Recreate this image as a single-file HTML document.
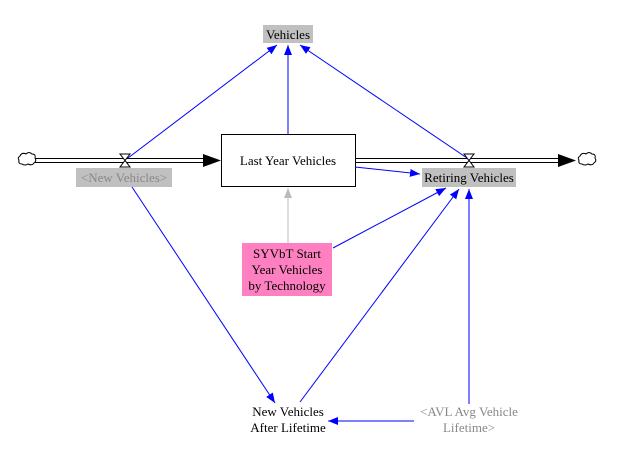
<!DOCTYPE html>
<html><head><meta charset="utf-8"><style>
html,body{margin:0;padding:0;background:#fff;width:626px;height:457px;overflow:hidden}
svg text{font-family:"Liberation Serif","Times New Roman",serif;font-size:13px}
</style></head><body>
<svg width="626" height="457" viewBox="0 0 626 457" xmlns="http://www.w3.org/2000/svg" font-family="Liberation Serif, serif" font-size="13">
<defs>
<marker id="b" markerWidth="10" markerHeight="8" refX="10" refY="4" orient="auto" markerUnits="userSpaceOnUse"><path d="M0,0 L10,4 L0,8 Z" fill="#0000ff"/></marker>
<marker id="g" markerWidth="10" markerHeight="8" refX="10" refY="4" orient="auto" markerUnits="userSpaceOnUse"><path d="M0,0 L10,4 L0,8 Z" fill="#bbb"/></marker>
</defs>
<rect x="263" y="25" width="50" height="18" fill="#c0c0c0"/>
<text x="288" y="39" text-anchor="middle">Vehicles</text>
<g stroke="#000" stroke-width="1">
<line x1="35" y1="158.5" x2="205" y2="158.5"/><line x1="35" y1="162.5" x2="205" y2="162.5"/>
<line x1="355" y1="158.5" x2="560" y2="158.5"/><line x1="355" y1="162.5" x2="560" y2="162.5"/>
</g>
<path d="M203,154 L221,160.5 L203,167 Z" fill="#000"/>
<path d="M558,154 L576,160.5 L558,167 Z" fill="#000"/>
<path d="M20,156 q2,-4 6,-2 q3,-3 6,0 q4,0 3,4 q2,3 -1,5 q-2,3 -6,1 q-3,2 -6,0 q-4,0 -3,-4 q-2,-2 1,-4 z" fill="#fff" stroke="#000"/>
<path d="M580,156 q2,-4 6,-2 q3,-3 6,0 q4,0 3,4 q2,3 -1,5 q-2,3 -6,1 q-3,2 -6,0 q-4,0 -3,-4 q-2,-2 1,-4 z" fill="#fff" stroke="#000"/>
<path d="M120,154 L130,154 L125,160.5 Z M120,167 L130,167 L125,160.5 Z" fill="#fff" stroke="#000"/>
<path d="M464,154 L474,154 L469,160.5 Z M464,167 L474,167 L469,160.5 Z" fill="#fff" stroke="#000"/>
<rect x="221.5" y="134.5" width="134" height="52" fill="#fff" stroke="#000"/>
<text x="288" y="165" text-anchor="middle">Last Year Vehicles</text>
<rect x="76" y="168" width="96" height="19" fill="#c0c0c0"/>
<text x="124" y="182" text-anchor="middle" fill="#888">&lt;New Vehicles&gt;</text>
<rect x="422" y="168" width="94" height="19" fill="#c0c0c0"/>
<text x="469" y="182" text-anchor="middle">Retiring Vehicles</text>
<rect x="242" y="243" width="90" height="53" fill="#ff80c0"/>
<text x="287" y="258" text-anchor="middle">SYVbT Start</text>
<text x="287" y="274" text-anchor="middle">Year Vehicles</text>
<text x="287" y="290" text-anchor="middle">by Technology</text>
<text x="288" y="416" text-anchor="middle">New Vehicles</text>
<text x="288" y="432" text-anchor="middle">After Lifetime</text>
<text x="469" y="416" text-anchor="middle" fill="#888">&lt;AVL Avg Vehicle</text>
<text x="469" y="432" text-anchor="middle" fill="#888">Lifetime&gt;</text>
<g stroke="#0000ff" stroke-width="1" fill="none" marker-end="url(#b)">
<line x1="128" y1="158" x2="277" y2="45"/>
<line x1="288" y1="134" x2="288" y2="45"/>
<line x1="467" y1="158" x2="300" y2="45"/>
<line x1="355" y1="167" x2="420" y2="174"/>
<line x1="333" y1="248" x2="446" y2="188"/>
<line x1="300" y1="402" x2="459" y2="189"/>
<line x1="469" y1="404" x2="469" y2="189"/>
<line x1="132" y1="187" x2="275" y2="403"/>
<line x1="414" y1="421" x2="328" y2="421"/>
</g>
<line x1="288" y1="243" x2="288" y2="188" stroke="#bbb" stroke-width="1" marker-end="url(#g)"/>
</svg>
</body></html>
